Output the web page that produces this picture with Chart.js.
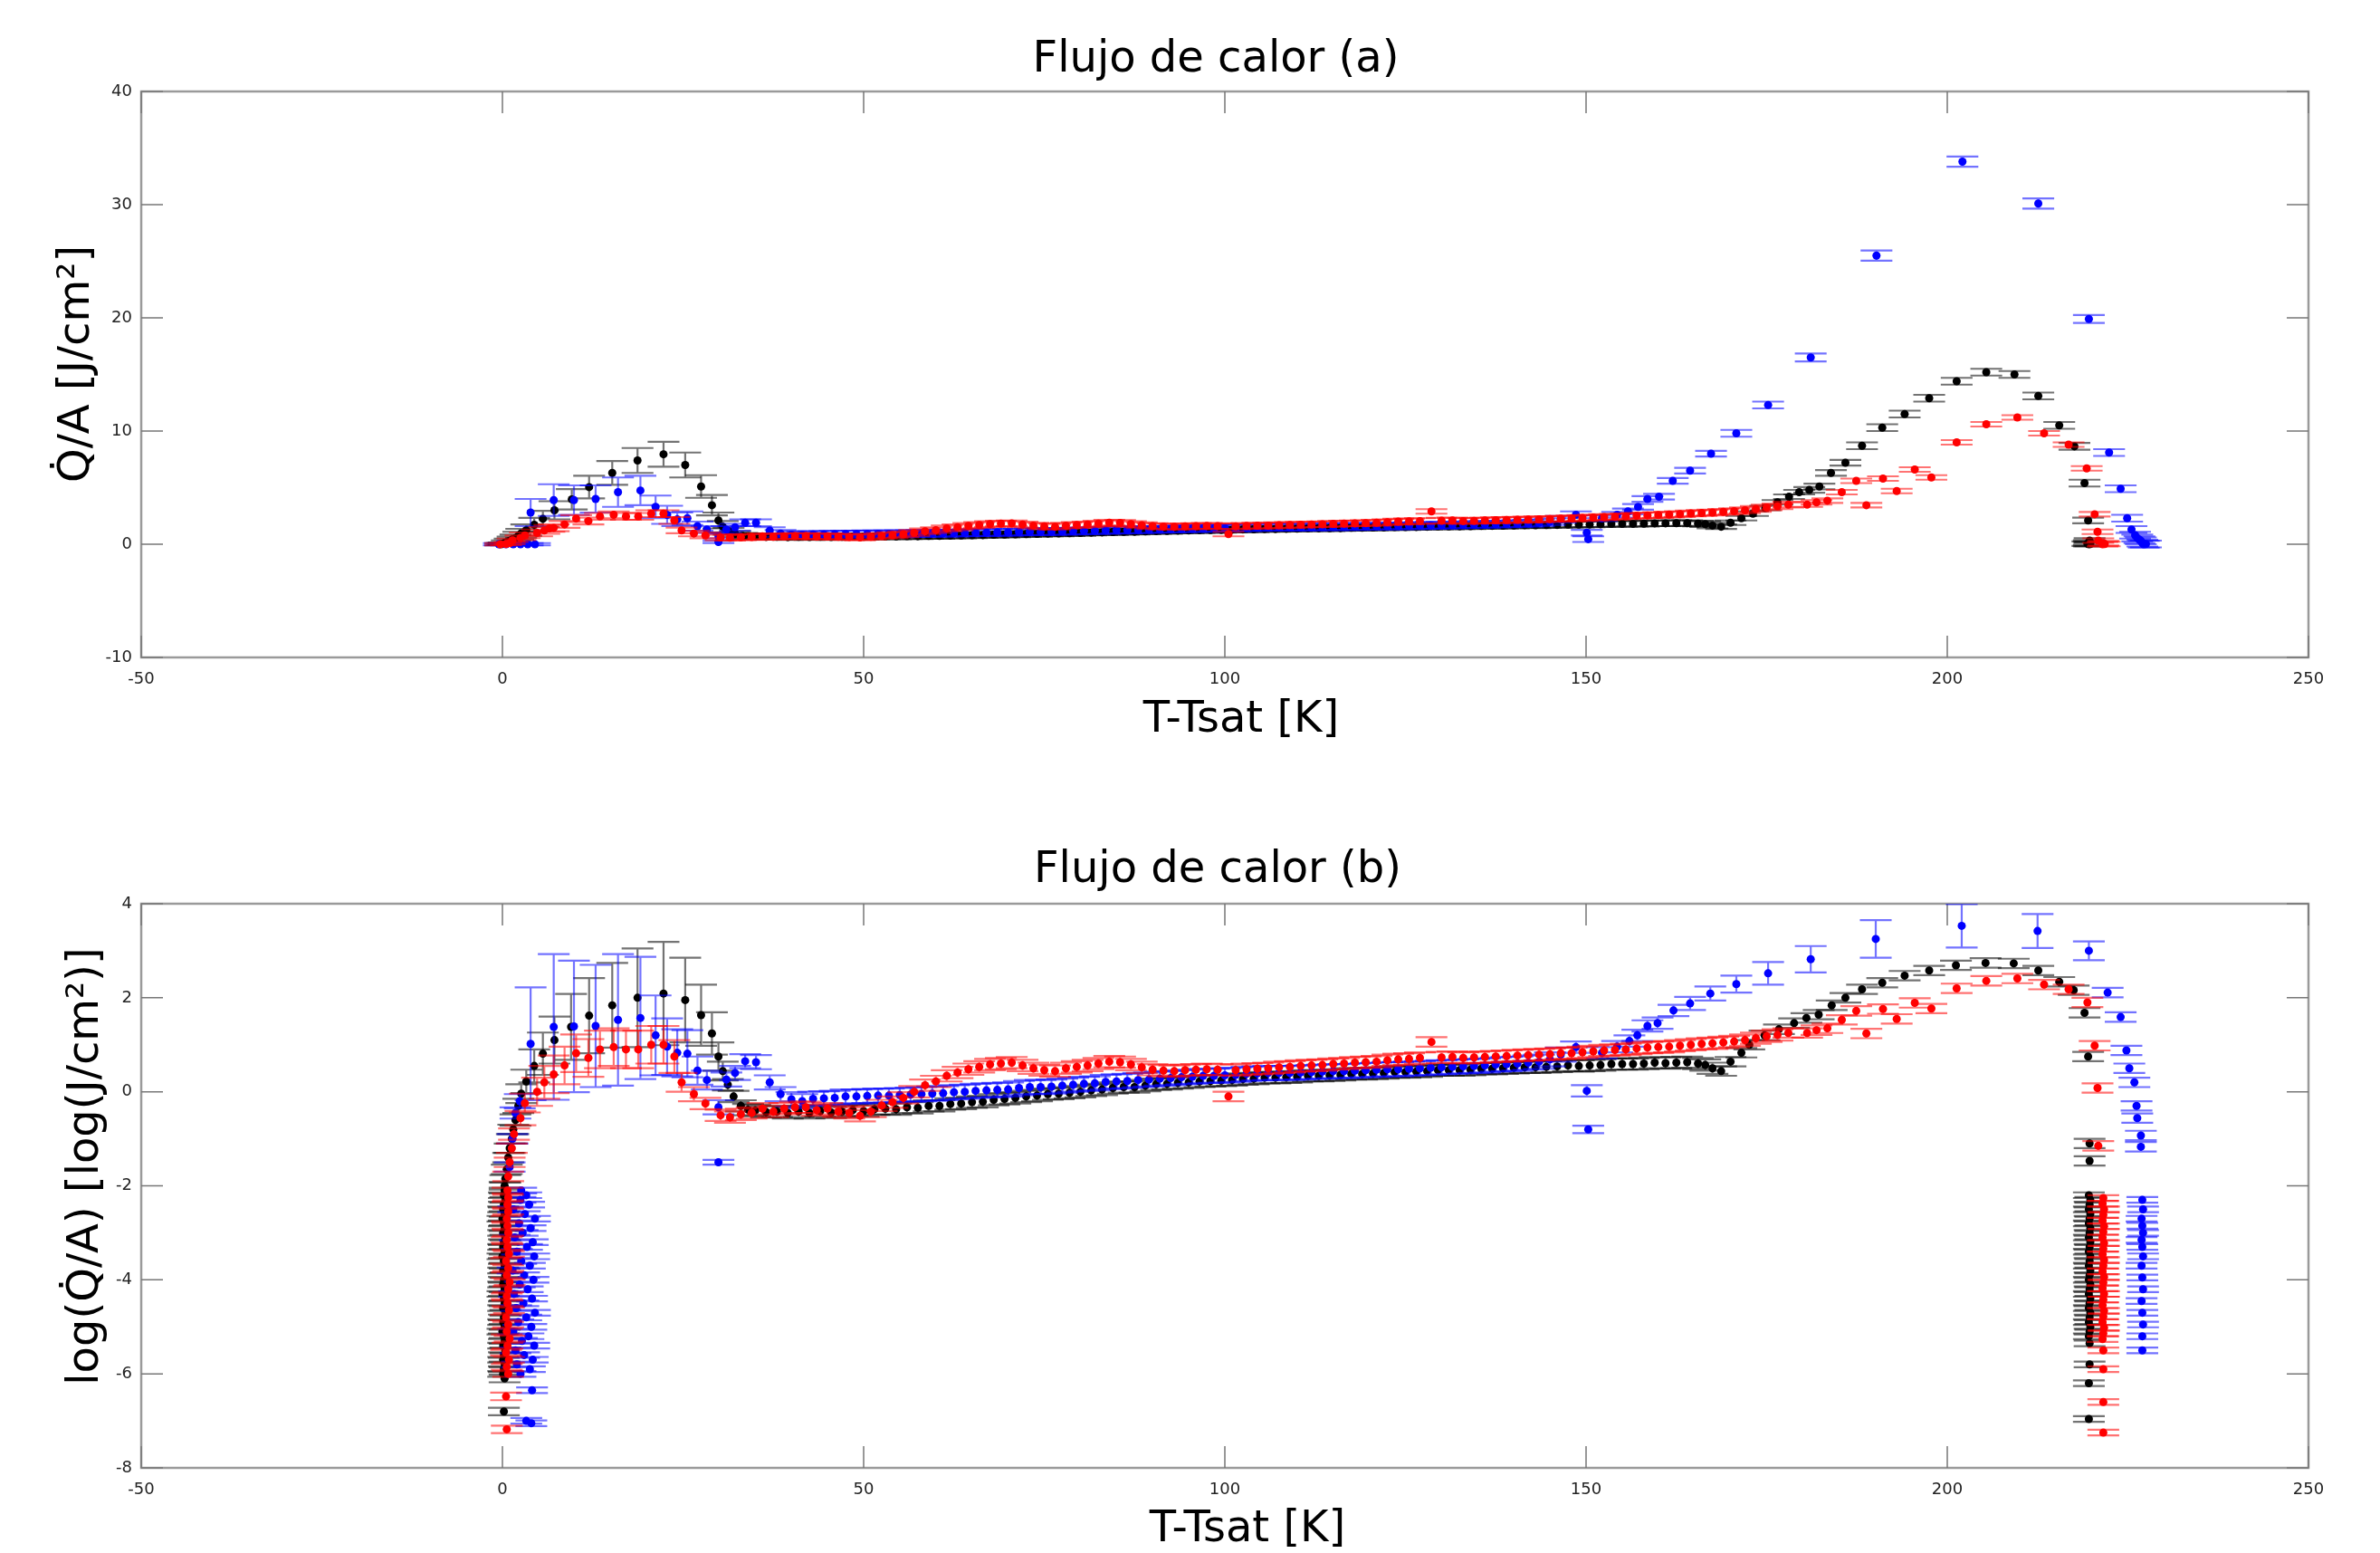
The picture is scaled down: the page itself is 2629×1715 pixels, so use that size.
<!DOCTYPE html>
<html>
<head>
<meta charset="utf-8">
<script src="https://cdn.jsdelivr.net/npm/chart.js@4.4.1/dist/chart.umd.min.js"></script>
<style>
  html, body { margin: 0; padding: 0; background: #ffffff; }
  #c1 { position: absolute; left: 0; top: 0; }
  #c2 { position: absolute; left: 0; top: 857px; }
</style>
</head>
<body>
<canvas id="c1" width="2629" height="857"></canvas>
<canvas id="c2" width="2629" height="858"></canvas>
<script>
// ---------- shared axis / tick data ----------
const xTickValues = [-50, 0, 50, 100, 150, 200, 250];
const yTicksA = [-10, 0, 10, 20, 30, 40];
const yTicksB = [-8, -6, -4, -2, 0, 2, 4];
const titleA = 'Flujo de calor (a)';
const titleB = 'Flujo de calor (b)';
const xTitle = 'T-Tsat [K]';
const yTitleA = 'Q\u0307/A [J/cm\u00b2]';
const yTitleB = 'log(Q\u0307/A) [log(J/cm\u00b2)]';
const xErr = 2.2; // horizontal error (K)

// ---------- panel (a): [T-Tsat, Q/A, yErr] ----------
const blackA = [[-0.3,0.0,0.1],[0.2,0.05,0.1],[0.0,0.02,0.1],[0.6,0.19,0.15],[1.0,0.3,0.2],[1.4,0.42,0.25],[1.8,0.55,0.3],[2.2,0.75,0.35],[2.6,0.96,0.4],[3.3,1.25,0.5],[4.4,1.73,0.6],[5.6,2.25,0.7],[7.2,3.0,0.8],[9.6,3.97,0.9],[12.0,5.05,1.0],[15.2,6.3,1.05],[18.7,7.4,1.1],[22.3,7.95,1.1],[25.3,7.0,1.1],[27.5,5.1,1.0],[29.0,3.45,0.9],[29.9,2.1,0.7],[30.5,1.55,0.5],[31.3,1.15,0.3],[32.2,0.9,0.25],[33.2,0.75,0.25],[34.0,0.7,0.25],
[35,0.68,0.25],[36.5,0.65,0.25],[38,0.66,0.25],[39.5,0.63,0.25],[41,0.66,0.25],[42.5,0.64,0.25],[44,0.67,0.25],[45.5,0.64,0.25],[47,0.66,0.25],[48.5,0.68,0.25],[50,0.66,0.25],[51.5,0.69,0.25],[53,0.7,0.25],[54.5,0.69,0.25],[56,0.72,0.25],[57.5,0.71,0.25],[59,0.74,0.25],[60.5,0.74,0.25],[62,0.77,0.25],[63.5,0.78,0.25],[65,0.8,0.25],[66.5,0.81,0.25],[68,0.84,0.25],[69.5,0.86,0.25],[71,0.88,0.25],[72.5,0.9,0.25],[74,0.92,0.25],[75.5,0.95,0.25],[77,0.96,0.25],[78.5,0.98,0.25],[80,1.0,0.25],[81.5,1.03,0.25],[83,1.05,0.25],[84.5,1.08,0.25],[86,1.1,0.25],[87.5,1.11,0.25],[89,1.14,0.25],[90.5,1.17,0.25],[92,1.18,0.25],[93.5,1.21,0.25],[95,1.22,0.25],[96.5,1.25,0.25],[98,1.26,0.25],[99.5,1.27,0.25],[101,1.29,0.25],[102.5,1.31,0.25],[104,1.32,0.25],[105.5,1.35,0.25],[107,1.35,0.25],[108.5,1.37,0.25],[110,1.38,0.25],[111.5,1.41,0.25],[113,1.41,0.25],[114.5,1.42,0.25],[116,1.43,0.25],[117.5,1.46,0.25],[119,1.46,0.25],[120.5,1.48,0.25],[122,1.49,0.25],[123.5,1.52,0.25],[125,1.52,0.25],[126.5,1.53,0.25],[128,1.55,0.25],[129.5,1.58,0.25],[131,1.58,0.25],[132.5,1.59,0.25],[134,1.6,0.25],[135.5,1.63,0.25],[137,1.63,0.25],[138.5,1.64,0.25],[140,1.66,0.25],[141.5,1.69,0.25],[143,1.68,0.25],[144.5,1.7,0.25],[146,1.71,0.25],[147.5,1.74,0.25],[149,1.74,0.25],[150.5,1.75,0.25],[152,1.77,0.25],[153.5,1.8,0.25],[155,1.8,0.25],[156.5,1.81,0.25],[158,1.82,0.25],[159.5,1.85,0.25],[161,1.85,0.25],[162.5,1.86,0.25],[164,1.87,0.25],[165.5,1.83,0.25],[166.5,1.78,0.25],[167.5,1.65,0.25],
[168.7,1.55,0.2],[170,1.9,0.2],[171.5,2.3,0.2],[173.1,2.7,0.2],[174.8,3.2,0.2],[176.5,3.7,0.2],[178.1,4.2,0.2],[179.5,4.6,0.2],[180.9,4.8,0.25],[182.3,5.1,0.25],[183.9,6.3,0.25],[185.9,7.2,0.25],[188.2,8.7,0.3],[191.0,10.3,0.3],[194.1,11.5,0.3],[197.5,12.9,0.3],[201.3,14.4,0.3],[205.4,15.2,0.3],[209.3,15.0,0.3],[212.6,13.1,0.3],[215.5,10.5,0.3],[217.6,8.65,0.3],[219.0,5.4,0.3],[219.5,2.1,0.25],[219.7,0.33,0.2],[219.6,0.15,0.2],[219.4,0.05,0.2],[219.8,0.02,0.2],[219.6,0.0,0.2]];

const redA = [[-0.3,0.0,0.1],[0.5,0.02,0.1],[1.0,0.1,0.1],[1.4,0.35,0.15],[2.5,0.57,0.2],[3.1,0.79,0.25],[4.8,1.0,0.3],[5.8,1.22,0.3],[6.5,1.4,0.3],[7.1,1.45,0.3],[8.6,1.75,0.3],[10.2,2.27,0.3],[11.9,2.05,0.3],[13.5,2.46,0.3],[15.4,2.6,0.3],[17.1,2.46,0.3],[18.8,2.46,0.3],[20.6,2.7,0.3],[22.3,2.7,0.3],[23.8,2.1,0.3],[24.8,1.22,0.25],[26.5,0.95,0.25],[28.1,0.78,0.25],
[30.2,0.6,0.25],[31.5,0.58,0.25],[33,0.62,0.25],[34.5,0.64,0.25],[36,0.7,0.25],[37.5,0.66,0.25],[39,0.7,0.25],[40.5,0.72,0.25],[42,0.72,0.25],[43.5,0.68,0.25],[45,0.7,0.25],[46.5,0.66,0.25],[48,0.64,0.25],[49.5,0.6,0.25],[51,0.66,0.25],[52.5,0.75,0.25],[54,0.8,0.25],[55.5,0.88,0.25],[57,1.0,0.25],[58.5,1.15,0.25],[60,1.25,0.25],[61.5,1.4,0.25],[63,1.5,0.25],[64.5,1.62,0.25],[66,1.7,0.25],[67.5,1.78,0.25],[69,1.82,0.25],[70.5,1.85,0.25],[72,1.75,0.25],[73.5,1.65,0.25],[75,1.58,0.25],[76.5,1.55,0.25],[78,1.65,0.25],[79.5,1.7,0.25],[81,1.75,0.25],[82.5,1.82,0.25],[84,1.9,0.25],[85.5,1.88,0.25],[87,1.78,0.25],[88.5,1.68,0.25],[90,1.6,0.25],[91.5,1.57,0.25],[93,1.55,0.25],[94.5,1.58,0.25],[96,1.6,0.25],[97.5,1.62,0.25],[99,1.6,0.25],[100.5,0.9,0.2],[101.5,1.58,0.25],[103,1.62,0.25],[104.5,1.64,0.25],[106,1.65,0.25],[107.5,1.68,0.25],[109,1.7,0.25],[110.5,1.73,0.25],[112,1.75,0.25],[113.5,1.77,0.25],[115,1.8,0.25],[116.5,1.83,0.25],[118,1.85,0.25],[119.5,1.87,0.25],[121,1.9,0.25],[122.5,1.95,0.25],[124,2.0,0.25],[125.5,2.02,0.25],[127,2.05,0.25],[128.6,2.9,0.2],[130,2.08,0.25],[131.5,2.1,0.25],[133,2.05,0.25],[134.5,2.07,0.25],[136,2.1,0.25],[137.5,2.12,0.25],[139,2.14,0.25],[140.5,2.16,0.25],[142,2.18,0.25],[143.5,2.2,0.25],[145,2.23,0.25],[146.5,2.26,0.25],[148,2.28,0.25],[149.5,2.32,0.25],[151,2.36,0.25],[152.5,2.4,0.25],[154,2.43,0.25],[155.5,2.47,0.25],[157,2.52,0.25],[158.5,2.55,0.25],[160,2.58,0.25],[161.5,2.62,0.25],[163,2.66,0.25],[164.5,2.72,0.25],[166,2.76,0.25],[167.5,2.8,0.25],[169,2.86,0.25],[170.5,2.92,0.25],[172,3.0,0.25],[173.5,3.12,0.25],[175,3.25,0.25],[176.5,3.35,0.25],[178,3.5,0.25],
[180.6,3.5,0.2],[181.9,3.7,0.2],[183.4,3.85,0.2],[185.4,4.6,0.2],[187.4,5.6,0.2],[188.8,3.45,0.2],[191.1,5.8,0.2],[193.0,4.7,0.2],[195.5,6.6,0.2],[197.8,5.9,0.2],[201.3,9.0,0.2],[205.4,10.6,0.2],[209.7,11.2,0.2],[213.4,9.8,0.2],[216.8,8.8,0.2],[219.3,6.7,0.2],[220.4,2.65,0.2],[220.8,1.1,0.2],[220.9,0.32,0.2],[221.6,0.1,0.2],[221.8,0.02,0.2],[221.5,0.0,0.2]];

const blueA = [[-0.5,0.0,0.1],[0.5,0.0,0.1],[1.5,0.0,0.1],[2.5,0.0,0.1],[3.5,0.0,0.1],[4.5,0.0,0.1],[3.9,2.8,1.2],[7.1,3.9,1.4],[9.9,3.9,1.3],[12.9,4.0,1.2],[16.0,4.6,1.3],[19.1,4.75,1.3],[21.2,3.3,1.0],[22.8,2.6,0.8],[24.2,2.2,0.6],[25.6,2.3,0.6],[27.0,1.6,0.4],[28.3,1.3,0.3],[29.9,0.72,0.2],[29.9,0.2,0.1],[31.0,1.3,0.3],[32.2,1.5,0.3],[33.6,1.9,0.3],[35.1,1.9,0.3],
[37,1.2,0.3],[38.5,0.95,0.3],[40,0.85,0.3],[41.5,0.82,0.3],[43,0.86,0.3],[44.5,0.87,0.3],[46,0.88,0.3],[47.5,0.9,0.3],[49,0.9,0.3],[50.5,0.91,0.3],[52,0.92,0.3],[53.5,0.92,0.3],[55,0.93,0.3],[56.5,0.94,0.3],[58,0.95,0.3],[59.5,0.96,0.3],[61,0.97,0.3],[62.5,0.99,0.3],[64,1.0,0.3],[65.5,1.02,0.3],[67,1.03,0.3],[68.5,1.04,0.3],[70,1.05,0.3],[71.5,1.08,0.3],[73,1.1,0.3],[74.5,1.11,0.3],[76,1.12,0.3],[77.5,1.14,0.3],[79,1.16,0.3],[80.5,1.18,0.3],[82,1.2,0.3],[83.5,1.23,0.3],[85,1.25,0.3],[86.5,1.26,0.3],[88,1.28,0.3],[89.5,1.3,0.3],[91,1.32,0.3],[92.5,1.34,0.3],[94,1.36,0.3],[95.5,1.38,0.3],[97,1.4,0.3],[98.5,1.41,0.3],[100,1.42,0.3],[101.5,1.44,0.3],[103,1.46,0.3],[104.5,1.48,0.3],[106,1.5,0.3],[107.5,1.5,0.3],[109,1.5,0.3],[110.5,1.51,0.3],[112,1.52,0.3],[113.5,1.54,0.3],[115,1.55,0.3],[116.5,1.56,0.3],[118,1.57,0.3],[119.5,1.58,0.3],[121,1.6,0.3],[122.5,1.61,0.3],[124,1.62,0.3],[125.5,1.64,0.3],[127,1.65,0.3],[128.5,1.67,0.3],[130,1.68,0.3],[131.5,1.7,0.3],[133,1.72,0.3],[134.5,1.74,0.3],[136,1.75,0.3],[137.5,1.78,0.3],[139,1.8,0.3],[140.5,1.82,0.3],[142,1.85,0.3],[143.5,1.9,0.3],[145,2.0,0.3],[146.5,2.2,0.3],[148.6,2.6,0.3],
[150.1,1.02,0.25],[150.3,0.45,0.25],[152.2,2.3,0.25],[154.3,2.6,0.25],[155.8,2.9,0.25],[157.2,3.3,0.25],[158.5,4.0,0.25],[160.1,4.2,0.25],[162.0,5.6,0.25],[164.4,6.5,0.25],[167.3,8.0,0.25],[170.8,9.8,0.3],[175.2,12.3,0.3],[181.1,16.5,0.35],[190.2,25.5,0.45],[202.1,33.8,0.45],[212.6,30.1,0.45],[219.6,19.9,0.35],[222.4,8.1,0.3],[224.0,4.9,0.3],[224.9,2.3,0.3],[225.5,1.3,0.3],[226.0,0.8,0.3],[226.3,0.55,0.3],[226.6,0.4,0.3],[226.8,0.3,0.3],[227.0,0.1,0.3],[227.2,0.0,0.3],[227.5,0.02,0.3]];

// ---------- panel (b): [T-Tsat, log(Q/A), yErr] ----------
const blackB = [[0.2,-6.8,0.08],[0.3,-6.1,0.08],[0.1,-6.0,0.06],[0.2,-5.9,0.06],[0.3,-5.8,0.06],[0.1,-5.7,0.06],[0.2,-5.6,0.06],[0.4,-5.5,0.06],[0.1,-5.4,0.06],[0.3,-5.3,0.06],[0.2,-5.2,0.06],[0.0,-5.1,0.06],[0.3,-5.0,0.06],[0.1,-4.9,0.06],[0.2,-4.8,0.06],[0.4,-4.7,0.06],[0.1,-4.6,0.06],[0.3,-4.5,0.06],[0.2,-4.4,0.06],[0.0,-4.3,0.06],[0.3,-4.2,0.06],[0.1,-4.1,0.06],[0.2,-4.0,0.06],[0.4,-3.9,0.06],[0.1,-3.8,0.06],[0.3,-3.7,0.06],[0.2,-3.6,0.06],[0.0,-3.5,0.06],[0.3,-3.4,0.06],[0.1,-3.3,0.06],[0.2,-3.2,0.06],[0.4,-3.1,0.06],[0.1,-3.0,0.06],[0.3,-2.9,0.06],[0.2,-2.8,0.06],[0.0,-2.7,0.06],[0.3,-2.6,0.06],[0.1,-2.5,0.06],[0.2,-2.4,0.06],[0.4,-2.3,0.06],[0.2,-2.2,0.06],[0.3,-2.1,0.06],[0.3,-2.0,0.08],[0.4,-1.85,0.08],
[0.6,-1.65,0.1],[0.8,-1.4,0.1],[1.0,-1.2,0.1],[1.3,-1.0,0.1],[1.5,-0.8,0.1],[1.8,-0.6,0.12],[2.2,-0.3,0.15],[2.6,-0.04,0.2],[3.3,0.22,0.25],[4.4,0.55,0.35],[5.6,0.81,0.45],[7.2,1.1,0.5],[9.5,1.38,0.7],[12.0,1.62,0.8],[15.2,1.84,0.9],[18.7,2.0,1.05],[22.3,2.09,1.1],[25.3,1.95,0.9],[27.5,1.63,0.65],[29.0,1.24,0.45],[29.9,0.75,0.3],[30.5,0.44,0.2],[31.2,0.15,0.12],[32.0,-0.1,0.12],[33.0,-0.3,0.12],[34.0,-0.38,0.12],
[35,-0.4,0.12],[36.5,-0.43,0.12],[38,-0.42,0.12],[39.5,-0.45,0.12],[41,-0.42,0.12],[42.5,-0.45,0.12],[44,-0.41,0.12],[45.5,-0.44,0.12],[47,-0.42,0.12],[48.5,-0.39,0.12],[50,-0.41,0.12],[51.5,-0.37,0.12],[53,-0.36,0.12],[54.5,-0.37,0.12],[56,-0.33,0.12],[57.5,-0.34,0.12],[59,-0.3,0.12],[60.5,-0.3,0.12],[62,-0.26,0.12],[63.5,-0.25,0.12],[65,-0.22,0.12],[66.5,-0.21,0.12],[68,-0.17,0.12],[69.5,-0.15,0.12],[71,-0.13,0.12],[72.5,-0.1,0.12],[74,-0.08,0.12],[75.5,-0.05,0.12],[77,-0.04,0.12],[78.5,-0.02,0.12],[80,0.0,0.12],[81.5,0.03,0.12],[83,0.05,0.12],[84.5,0.08,0.12],[86,0.1,0.12],[87.5,0.1,0.12],[89,0.13,0.12],[90.5,0.16,0.12],[92,0.17,0.12],[93.5,0.19,0.12],[95,0.2,0.12],[96.5,0.22,0.12],[98,0.23,0.12],[99.5,0.24,0.12],[101,0.25,0.12],[102.5,0.27,0.12],[104,0.28,0.12],[105.5,0.3,0.12],[107,0.3,0.12],[108.5,0.31,0.12],[110,0.32,0.12],[111.5,0.34,0.12],[113,0.34,0.12],[114.5,0.35,0.12],[116,0.36,0.12],[117.5,0.38,0.12],[119,0.38,0.12],[120.5,0.39,0.12],[122,0.4,0.12],[123.5,0.42,0.12],[125,0.42,0.12],[126.5,0.43,0.12],[128,0.44,0.12],[129.5,0.46,0.12],[131,0.46,0.12],[132.5,0.46,0.12],[134,0.47,0.12],[135.5,0.49,0.12],[137,0.49,0.12],[138.5,0.5,0.12],[140,0.51,0.12],[141.5,0.52,0.12],[143,0.52,0.12],[144.5,0.53,0.12],[146,0.54,0.12],[147.5,0.56,0.12],[149,0.55,0.12],[150.5,0.56,0.12],[152,0.57,0.12],[153.5,0.59,0.12],[155,0.59,0.12],[156.5,0.59,0.12],[158,0.6,0.12],[159.5,0.62,0.12],[161,0.61,0.12],[162.5,0.62,0.12],[164,0.63,0.12],[165.5,0.6,0.12],[166.5,0.57,0.12],[167.5,0.5,0.12],
[168.7,0.44,0.1],[170,0.64,0.1],[171.5,0.83,0.1],[172.6,1.0,0.1],[174.7,1.2,0.1],[176.7,1.33,0.1],[178.8,1.46,0.1],[180.5,1.57,0.1],[182.2,1.64,0.1],[184.0,1.84,0.1],[185.9,2.0,0.1],[188.2,2.18,0.1],[191.0,2.32,0.1],[194.1,2.47,0.1],[197.5,2.58,0.1],[201.2,2.69,0.1],[205.3,2.74,0.1],[209.2,2.73,0.1],[212.6,2.58,0.1],[215.5,2.34,0.1],[217.5,2.16,0.1],[219.0,1.68,0.1],[219.5,0.75,0.1],[219.7,-1.1,0.1],[219.7,-1.47,0.1],
[219.6,-2.2,0.06],[219.8,-2.3,0.06],[219.7,-2.4,0.06],[219.6,-2.5,0.06],[219.8,-2.6,0.06],[219.7,-2.7,0.06],[219.6,-2.8,0.06],[219.8,-2.9,0.06],[219.7,-3.0,0.06],[219.6,-3.1,0.06],[219.8,-3.2,0.06],[219.7,-3.3,0.06],[219.6,-3.4,0.06],[219.8,-3.5,0.06],[219.7,-3.6,0.06],[219.6,-3.7,0.06],[219.8,-3.8,0.06],[219.7,-3.9,0.06],[219.6,-4.0,0.06],[219.8,-4.1,0.06],[219.7,-4.2,0.06],[219.6,-4.3,0.06],[219.8,-4.4,0.06],[219.7,-4.5,0.06],[219.6,-4.6,0.06],[219.8,-4.7,0.06],[219.7,-4.8,0.06],[219.6,-4.9,0.06],[219.8,-5.0,0.06],[219.7,-5.1,0.06],[219.6,-5.2,0.06],[219.7,-5.35,0.06],[219.7,-5.8,0.06],[219.6,-6.2,0.06],[219.6,-6.96,0.06]];

const redB = [[0.6,-7.18,0.08],[0.5,-6.48,0.08],[0.8,-6.0,0.06],[0.6,-5.85,0.06],[0.9,-5.7,0.06],[0.5,-5.55,0.06],[0.7,-5.4,0.06],[1.0,-5.25,0.06],[0.6,-5.1,0.06],[0.8,-4.95,0.06],[0.5,-4.8,0.06],[0.9,-4.65,0.06],[0.7,-4.5,0.06],[0.6,-4.35,0.06],[0.8,-4.2,0.06],[1.0,-4.05,0.06],[0.6,-3.9,0.06],[0.8,-3.75,0.06],[0.5,-3.6,0.06],[0.9,-3.45,0.06],[0.7,-3.3,0.06],[0.6,-3.15,0.06],[0.8,-3.0,0.06],[0.7,-2.85,0.06],[0.6,-2.7,0.06],[0.8,-2.55,0.06],[0.7,-2.4,0.06],[0.8,-2.25,0.06],[0.7,-2.1,0.06],[0.8,-1.8,0.1],[1.0,-1.5,0.1],[1.3,-1.2,0.1],[1.6,-0.9,0.12],[2.5,-0.56,0.15],[3.1,-0.24,0.2],[4.8,0.0,0.3],[5.8,0.2,0.35],[7.1,0.37,0.4],[8.6,0.56,0.4],[10.2,0.82,0.4],[11.9,0.72,0.4],[13.5,0.9,0.4],[15.4,0.95,0.4],[17.1,0.9,0.4],[18.8,0.9,0.4],[20.6,1.0,0.4],[22.3,1.0,0.4],[23.8,0.75,0.35],[24.8,0.2,0.2],[26.5,-0.05,0.15],[28.1,-0.25,0.12],
[30.2,-0.5,0.12],[31.5,-0.54,0.12],[33,-0.48,0.12],[34.5,-0.45,0.12],[36,-0.36,0.12],[37.5,-0.42,0.12],[39,-0.36,0.12],[40.5,-0.33,0.12],[42,-0.33,0.12],[43.5,-0.39,0.12],[45,-0.36,0.12],[46.5,-0.42,0.12],[48,-0.45,0.12],[49.5,-0.51,0.12],[51,-0.42,0.12],[52.5,-0.29,0.12],[54,-0.22,0.12],[55.5,-0.13,0.12],[57,0.0,0.12],[58.5,0.14,0.12],[60,0.22,0.12],[61.5,0.34,0.12],[63,0.41,0.12],[64.5,0.48,0.12],[66,0.53,0.12],[67.5,0.58,0.12],[69,0.6,0.12],[70.5,0.62,0.12],[72,0.56,0.12],[73.5,0.5,0.12],[75,0.46,0.12],[76.5,0.44,0.12],[78,0.5,0.12],[79.5,0.53,0.12],[81,0.56,0.12],[82.5,0.6,0.12],[84,0.64,0.12],[85.5,0.63,0.12],[87,0.58,0.12],[88.5,0.52,0.12],[90,0.47,0.12],[91.5,0.45,0.12],[93,0.44,0.12],[94.5,0.46,0.12],[96,0.47,0.12],[97.5,0.48,0.12],[99,0.47,0.12],[100.5,-0.1,0.1],[101.5,0.46,0.12],[103,0.48,0.12],[104.5,0.49,0.12],[106,0.5,0.12],[107.5,0.52,0.12],[109,0.53,0.12],[110.5,0.55,0.12],[112,0.56,0.12],[113.5,0.57,0.12],[115,0.59,0.12],[116.5,0.6,0.12],[118,0.62,0.12],[119.5,0.63,0.12],[121,0.64,0.12],[122.5,0.67,0.12],[124,0.69,0.12],[125.5,0.7,0.12],[127,0.72,0.12],[128.6,1.06,0.1],[130,0.73,0.12],[131.5,0.74,0.12],[133,0.72,0.12],[134.5,0.73,0.12],[136,0.74,0.12],[137.5,0.75,0.12],[139,0.76,0.12],[140.5,0.77,0.12],[142,0.78,0.12],[143.5,0.79,0.12],[145,0.8,0.12],[146.5,0.82,0.12],[148,0.82,0.12],[149.5,0.84,0.12],[151,0.86,0.12],[152.5,0.88,0.12],[154,0.89,0.12],[155.5,0.9,0.12],[157,0.92,0.12],[158.5,0.94,0.12],[160,0.95,0.12],[161.5,0.96,0.12],[163,0.98,0.12],[164.5,1.0,0.12],[166,1.02,0.12],[167.5,1.03,0.12],[169,1.05,0.12],[170.5,1.07,0.12],[172,1.1,0.12],[173.5,1.14,0.12],[175,1.18,0.12],[176.5,1.21,0.12],[178,1.25,0.1],
[180.6,1.25,0.1],[181.9,1.31,0.1],[183.4,1.35,0.1],[185.4,1.53,0.1],[187.4,1.72,0.1],[188.8,1.24,0.1],[191.1,1.76,0.1],[193.0,1.55,0.1],[195.5,1.89,0.1],[197.8,1.77,0.1],[201.3,2.2,0.1],[205.4,2.36,0.1],[209.7,2.41,0.1],[213.4,2.28,0.1],[216.8,2.18,0.1],[219.4,1.9,0.1],[220.4,0.98,0.1],[220.8,0.08,0.1],[220.9,-1.15,0.1],
[221.6,-2.26,0.06],[221.5,-2.38,0.06],[221.7,-2.5,0.06],[221.6,-2.62,0.06],[221.5,-2.74,0.06],[221.7,-2.86,0.06],[221.6,-2.98,0.06],[221.5,-3.1,0.06],[221.7,-3.22,0.06],[221.6,-3.34,0.06],[221.5,-3.46,0.06],[221.7,-3.58,0.06],[221.6,-3.7,0.06],[221.5,-3.82,0.06],[221.7,-3.94,0.06],[221.6,-4.06,0.06],[221.5,-4.18,0.06],[221.7,-4.3,0.06],[221.6,-4.42,0.06],[221.5,-4.54,0.06],[221.7,-4.66,0.06],[221.6,-4.78,0.06],[221.5,-4.9,0.06],[221.7,-5.02,0.06],[221.6,-5.14,0.06],[221.5,-5.26,0.06],[221.6,-5.5,0.06],[221.6,-5.9,0.06],[221.6,-6.6,0.06],[221.6,-7.25,0.06]];

const blueB = [[3.3,-7.0,0.06],[4.0,-7.05,0.06],[4.1,-6.35,0.06],[2.5,-6.0,0.06],[3.8,-5.9,0.06],[2.0,-5.8,0.06],[4.2,-5.7,0.06],[3.0,-5.6,0.06],[1.8,-5.5,0.06],[4.4,-5.4,0.06],[2.7,-5.3,0.06],[3.6,-5.2,0.06],[1.5,-5.1,0.06],[4.0,-5.0,0.06],[2.2,-4.9,0.06],[3.3,-4.8,0.06],[4.5,-4.7,0.06],[1.9,-4.6,0.06],[2.9,-4.5,0.06],[4.1,-4.4,0.06],[1.6,-4.3,0.06],[3.5,-4.2,0.06],[2.4,-4.1,0.06],[4.3,-4.0,0.06],[3.0,-3.9,0.06],[1.4,-3.8,0.06],[3.8,-3.7,0.06],[2.6,-3.6,0.06],[4.4,-3.5,0.06],[2.0,-3.4,0.06],[3.4,-3.3,0.06],[4.2,-3.2,0.06],[1.7,-3.1,0.06],[2.8,-3.0,0.06],[3.9,-2.9,0.06],[2.3,-2.8,0.06],[4.5,-2.7,0.06],[3.1,-2.6,0.06],[1.5,-2.5,0.06],[3.7,-2.4,0.06],[2.5,-2.3,0.06],[3.3,-2.2,0.06],[2.6,-2.1,0.06],
[1.0,-1.6,0.1],[1.4,-1.0,0.1],[1.8,-0.45,0.12],[2.4,-0.2,0.15],
[3.9,1.02,1.2],[7.1,1.38,1.55],[9.9,1.39,1.4],[12.9,1.4,1.3],[16.0,1.53,1.4],[19.1,1.57,1.3],[21.2,1.2,0.85],[22.8,0.96,0.6],[24.2,0.83,0.5],[25.6,0.81,0.5],[27.0,0.45,0.3],[28.3,0.25,0.2],[29.9,-0.33,0.15],[29.9,-1.5,0.05],[31.0,0.26,0.15],[32.2,0.4,0.15],[33.6,0.65,0.15],[35.1,0.63,0.15],
[37,0.2,0.15],[38.5,-0.05,0.15],[40,-0.16,0.15],[41.5,-0.2,0.15],[43,-0.15,0.15],[44.5,-0.14,0.15],[46,-0.13,0.15],[47.5,-0.1,0.15],[49,-0.1,0.15],[50.5,-0.09,0.15],[52,-0.08,0.15],[53.5,-0.08,0.15],[55,-0.07,0.15],[56.5,-0.06,0.15],[58,-0.05,0.15],[59.5,-0.04,0.15],[61,-0.03,0.15],[62.5,-0.01,0.15],[64,0.0,0.15],[65.5,0.02,0.15],[67,0.03,0.15],[68.5,0.04,0.15],[70,0.05,0.15],[71.5,0.08,0.15],[73,0.1,0.15],[74.5,0.1,0.15],[76,0.11,0.15],[77.5,0.13,0.15],[79,0.15,0.15],[80.5,0.17,0.15],[82,0.18,0.15],[83.5,0.21,0.15],[85,0.22,0.15],[86.5,0.23,0.15],[88,0.25,0.15],[89.5,0.26,0.15],[91,0.28,0.15],[92.5,0.29,0.15],[94,0.31,0.15],[95.5,0.32,0.15],[97,0.34,0.15],[98.5,0.34,0.15],[100,0.35,0.15],[101.5,0.36,0.15],[103,0.38,0.15],[104.5,0.39,0.15],[106,0.4,0.15],[107.5,0.4,0.15],[109,0.4,0.15],[110.5,0.41,0.15],[112,0.42,0.15],[113.5,0.43,0.15],[115,0.44,0.15],[116.5,0.44,0.15],[118,0.45,0.15],[119.5,0.46,0.15],[121,0.47,0.15],[122.5,0.48,0.15],[124,0.48,0.15],[125.5,0.49,0.15],[127,0.5,0.15],[128.5,0.51,0.15],[130,0.52,0.15],[131.5,0.53,0.15],[133,0.54,0.15],[134.5,0.55,0.15],[136,0.56,0.15],[137.5,0.58,0.15],[139,0.59,0.15],[140.5,0.6,0.15],[142,0.62,0.15],[143.5,0.64,0.15],[145,0.69,0.15],[146.5,0.79,0.15],[148.6,0.95,0.12],
[150.1,0.02,0.12],[150.3,-0.8,0.08],[152.2,0.83,0.12],[154.3,0.96,0.12],[156.0,1.08,0.12],[157.1,1.2,0.12],[158.5,1.4,0.12],[159.9,1.46,0.12],[162.1,1.73,0.12],[164.4,1.88,0.14],[167.2,2.09,0.15],[170.8,2.29,0.18],[175.2,2.52,0.24],[181.1,2.82,0.28],[190.1,3.25,0.4],[202.0,3.53,0.46],[212.5,3.42,0.36],[219.6,3.0,0.2],[222.2,2.11,0.1],[224.0,1.59,0.1],[224.8,0.88,0.1],[225.2,0.5,0.1],[225.9,0.2,0.1],[226.2,-0.3,0.1],[226.3,-0.56,0.1],[226.8,-0.93,0.1],[226.8,-1.17,0.1],
[227.0,-2.3,0.06],[227.1,-2.5,0.06],[226.9,-2.7,0.06],[227.0,-2.85,0.06],[227.1,-3.0,0.06],[226.9,-3.15,0.06],[227.0,-3.3,0.06],[227.1,-3.5,0.06],[226.9,-3.7,0.06],[227.0,-3.95,0.06],[227.1,-4.2,0.06],[226.9,-4.45,0.06],[227.0,-4.7,0.06],[227.1,-4.95,0.06],[227.0,-5.2,0.06],[227.0,-5.5,0.06]];

// ---------- plugins ----------
const FONT = '"DejaVu Sans", sans-serif';

const errorBars = {
  id: 'errorBars',
  beforeDatasetDraw(chart, args) {
    const ds = chart.data.datasets[args.index];
    const xs = chart.scales.x, ys = chart.scales.y;
    const ctx = chart.ctx, a = chart.chartArea;
    ctx.save();
    ctx.beginPath();
    ctx.rect(a.left, a.top, a.right - a.left, a.bottom - a.top);
    ctx.clip();
    ctx.strokeStyle = ds.errColor;
    ctx.lineWidth = 2.2;
    ds.src.forEach(p => {
      const px = xs.getPixelForValue(p[0]);
      const yl = ys.getPixelForValue(p[1] - p[2]);
      const yh = ys.getPixelForValue(p[1] + p[2]);
      const xl = xs.getPixelForValue(p[0] - xErr);
      const xr = xs.getPixelForValue(p[0] + xErr);
      ctx.beginPath();
      ctx.moveTo(px, yl); ctx.lineTo(px, yh);
      ctx.moveTo(xl, yl); ctx.lineTo(xr, yl);
      ctx.moveTo(xl, yh); ctx.lineTo(xr, yh);
      ctx.stroke();
    });
    ctx.restore();
  }
};

const frame = {
  id: 'frame',
  beforeDatasetsDraw(chart) {
    const {ctx, chartArea: a} = chart;
    const xs = chart.scales.x, ys = chart.scales.y;
    ctx.save();
    ctx.strokeStyle = '#9a9a9a';
    ctx.lineWidth = 2.5;
    ctx.strokeRect(a.left, a.top, a.right - a.left, a.bottom - a.top);
    ctx.strokeStyle = '#777777';
    ctx.lineWidth = 1.5;
    const L = 24;
    ctx.beginPath();
    xs.ticks.forEach(t => {
      const px = xs.getPixelForValue(t.value);
      ctx.moveTo(px, a.bottom); ctx.lineTo(px, a.bottom - L);
      ctx.moveTo(px, a.top); ctx.lineTo(px, a.top + L);
    });
    ys.ticks.forEach(t => {
      const py = ys.getPixelForValue(t.value);
      ctx.moveTo(a.left, py); ctx.lineTo(a.left + L, py);
      ctx.moveTo(a.right, py); ctx.lineTo(a.right - L, py);
    });
    ctx.stroke();
    ctx.restore();
  }
};

const labels = {
  id: 'labels',
  afterDraw(chart, args, o) {
    const ctx = chart.ctx;
    ctx.save();
    ctx.fillStyle = '#000000';
    ctx.textAlign = 'center';
    ctx.textBaseline = 'middle';
    ctx.font = '48px ' + FONT;
    ctx.fillText(o.title, o.titleX, o.titleY);
    ctx.fillText(o.xTitle, o.xTitleX, o.xTitleY);
    ctx.translate(o.yTitleX, o.yTitleY);
    ctx.rotate(-Math.PI / 2);
    ctx.fillText(o.yTitle, 0, 0);
    ctx.restore();
  }
};

function makeDataset(src, color, errColor) {
  return {
    data: src.map(p => ({x: p[0], y: p[1]})),
    src: src,
    errColor: errColor,
    showLine: false,
    pointRadius: 4.5,
    pointHoverRadius: 4.5,
    pointBorderWidth: 0,
    pointBackgroundColor: color,
    borderColor: color,
    backgroundColor: color
  };
}

function makeChart(id, cfg) {
  return new Chart(document.getElementById(id), {
    type: 'scatter',
    data: {
      datasets: [
        makeDataset(cfg.red, '#ff0000', 'rgba(255,0,0,0.55)'),
        makeDataset(cfg.blue, '#0000ff', 'rgba(0,0,255,0.55)'),
        makeDataset(cfg.black, '#000000', 'rgba(0,0,0,0.55)')
      ]
    },
    plugins: [errorBars, frame, labels],
    options: {
      responsive: false,
      devicePixelRatio: 1,
      animation: false,
      events: [],
      layout: { padding: { left: 0, right: 79, top: cfg.padTop, bottom: 0 } },
      plugins: {
        legend: { display: false },
        tooltip: { enabled: false },
        title: { display: false },
        labels: {
          title: cfg.title, titleX: cfg.titleX, titleY: cfg.titleY,
          xTitle: xTitle, xTitleX: cfg.xTitleX, xTitleY: cfg.xTitleY,
          yTitle: cfg.yTitle, yTitleX: cfg.yTitleX, yTitleY: cfg.yTitleY
        }
      },
      scales: {
        x: {
          type: 'linear',
          min: -50, max: 250,
          afterBuildTicks: s => { s.ticks = xTickValues.map(v => ({value: v})); },
          afterFit: s => { s.height = cfg.xHeight; },
          grid: { display: false, drawTicks: false },
          border: { display: false },
          ticks: { color: '#222222', padding: 14, font: { family: FONT, size: 18 } },
          title: { display: false }
        },
        y: {
          type: 'linear',
          min: cfg.yMin, max: cfg.yMax,
          afterBuildTicks: s => { s.ticks = cfg.yTicks.map(v => ({value: v})); },
          afterFit: s => { s.width = 156; },
          grid: { display: false, drawTicks: false },
          border: { display: false },
          ticks: { color: '#222222', padding: 10, font: { family: FONT, size: 18 } },
          title: { display: false }
        }
      }
    }
  });
}

makeChart('c1', {
  red: redA, blue: blueA, black: blackA,
  padTop: 101, xHeight: 131,
  title: titleA, titleX: 1343, titleY: 67,
  xTitleX: 1371, xTitleY: 796,
  yTitle: yTitleA, yTitleX: 86, yTitleY: 402,
  yMin: -10, yMax: 40, yTicks: yTicksA
});

makeChart('c2', {
  red: redB, blue: blueB, black: blackB,
  padTop: 141, xHeight: 94,
  title: titleB, titleX: 1345, titleY: 105,
  xTitleX: 1378, xTitleY: 833,
  yTitle: yTitleB, yTitleX: 96, yTitleY: 431,
  yMin: -8, yMax: 4, yTicks: yTicksB
});
</script>
</body>
</html>
